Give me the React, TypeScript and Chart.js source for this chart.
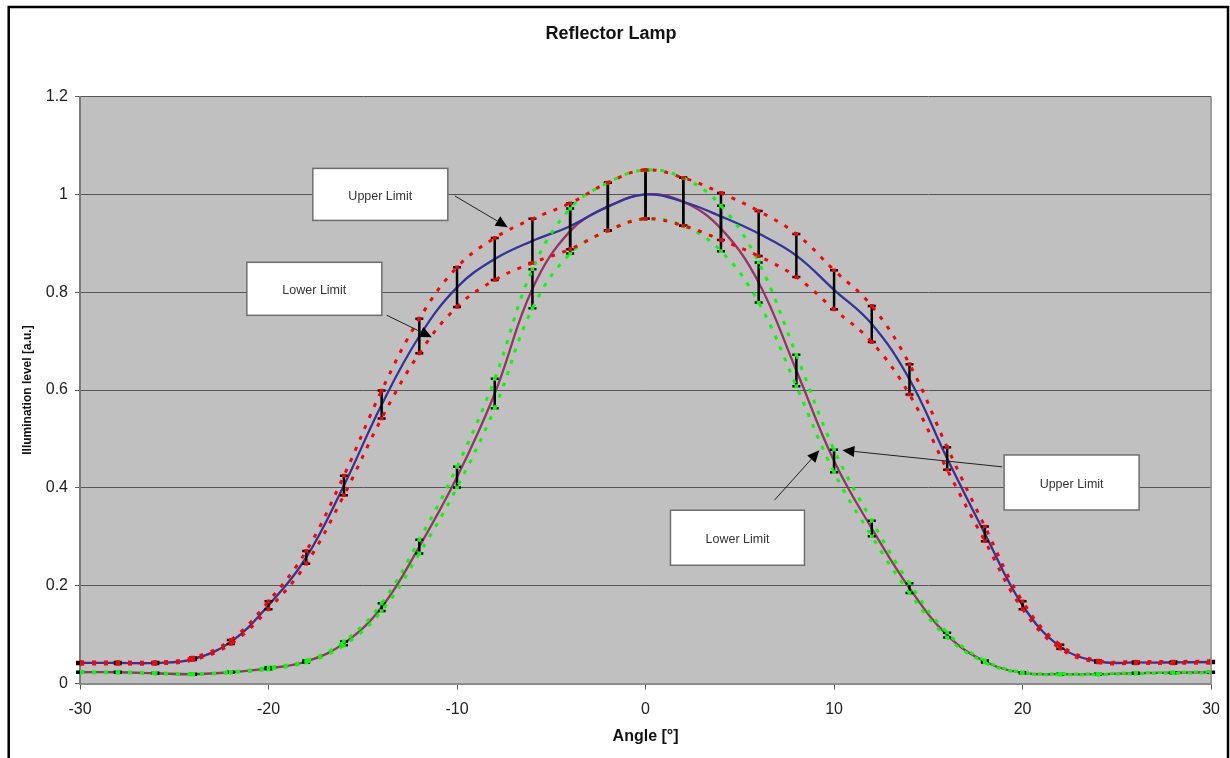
import React, { useEffect, useRef } from 'react';
import { Chart, registerables } from 'chart.js';

Chart.register(...registerables);

// ---- Data ----
const angles = [-30, -28, -26, -24, -22, -20, -18, -16, -14, -12, -10, -8, -6, -4, -2, 0, 2, 4, 6, 8, 10, 12, 14, 16, 18, 20, 22, 24, 26, 28, 30];

// wide beam (blue) and its limits (red dotted)
const wideLevel = [0.042, 0.042, 0.042, 0.05, 0.085, 0.16, 0.258, 0.405, 0.57, 0.71, 0.81, 0.868, 0.905, 0.935, 0.975, 1.0, 0.985, 0.955, 0.92, 0.875, 0.805, 0.735, 0.622, 0.46, 0.306, 0.16, 0.075, 0.045, 0.043, 0.043, 0.044];
const wideUpper = [0.044, 0.044, 0.044, 0.053, 0.089, 0.168, 0.271, 0.425, 0.599, 0.746, 0.851, 0.911, 0.95, 0.982, 1.024, 1.05, 1.034, 1.003, 0.966, 0.919, 0.845, 0.772, 0.653, 0.483, 0.321, 0.168, 0.079, 0.047, 0.045, 0.045, 0.046];
const wideLower = [0.04, 0.04, 0.04, 0.048, 0.081, 0.152, 0.245, 0.385, 0.542, 0.675, 0.77, 0.825, 0.86, 0.888, 0.926, 0.95, 0.936, 0.907, 0.874, 0.831, 0.765, 0.698, 0.591, 0.437, 0.291, 0.152, 0.071, 0.043, 0.041, 0.041, 0.042];

// narrow beam (purple) and its limits (green dotted)
const narrowLevel = [0.023, 0.023, 0.021, 0.019, 0.023, 0.031, 0.045, 0.082, 0.156, 0.28, 0.422, 0.593, 0.807, 0.925, 0.975, 1.0, 0.985, 0.93, 0.82, 0.64, 0.455, 0.317, 0.195, 0.099, 0.045, 0.022, 0.019, 0.019, 0.021, 0.022, 0.023];
const narrowUpper = [0.024, 0.024, 0.022, 0.02, 0.024, 0.033, 0.047, 0.086, 0.164, 0.294, 0.443, 0.623, 0.847, 0.971, 1.024, 1.05, 1.034, 0.977, 0.861, 0.672, 0.478, 0.333, 0.205, 0.104, 0.047, 0.023, 0.02, 0.02, 0.022, 0.023, 0.024];
const narrowLower = [0.022, 0.022, 0.02, 0.018, 0.022, 0.029, 0.043, 0.078, 0.148, 0.266, 0.401, 0.563, 0.767, 0.879, 0.926, 0.95, 0.936, 0.884, 0.779, 0.608, 0.432, 0.301, 0.185, 0.094, 0.043, 0.021, 0.018, 0.018, 0.02, 0.021, 0.022];

const xTickValues = [-30, -20, -10, 0, 10, 20, 30];
const yTickValues = [0, 0.2, 0.4, 0.6, 0.8, 1, 1.2];
const yTickLabels = ['0', '0.2', '0.4', '0.6', '0.8', '1', '1.2'];

// ---- Annotation callouts (anchored in data coordinates) ----
const callouts = [
  { text: 'Upper Limit', cx: -14.07, cy: 1.0, w: 135, h: 52, fx: -10.12, fy: 0.997, tx: -7.31, ty: 0.933 },
  { text: 'Lower Limit', cx: -17.57, cy: 0.807, w: 135, h: 53, fx: -13.73, fy: 0.753, tx: -11.34, ty: 0.708 },
  { text: 'Upper Limit', cx: 22.6, cy: 0.411, w: 135, h: 55, fx: 18.92, fy: 0.443, tx: 10.44, ty: 0.477 },
  { text: 'Lower Limit', cx: 4.876, cy: 0.298, w: 134, h: 55, fx: 6.84, fy: 0.375, tx: 9.22, ty: 0.477 },
];

const FONT = "'Liberation Sans', Arial, Helvetica, sans-serif";

const pts = (ys: number[]) => angles.map((a, i) => ({ x: a, y: ys[i] }));

const backgroundPlugin = {
  id: 'bgFrame',
  beforeDraw(chart: any) {
    const { ctx, chartArea: a, width, height } = chart;
    ctx.save();
    ctx.fillStyle = '#ffffff';
    ctx.fillRect(0, 0, width, height);
    ctx.fillStyle = '#c0c0c0';
    ctx.fillRect(a.left, a.top, a.right - a.left, a.bottom - a.top);
    ctx.restore();
  },
  afterDraw(chart: any) {
    const { ctx, chartArea: a } = chart;
    ctx.save();
    ctx.strokeStyle = '#8c8c8c';
    ctx.lineWidth = 1.5;
    ctx.beginPath();
    ctx.moveTo(a.right, a.top);
    ctx.lineTo(a.right, a.bottom);
    ctx.stroke();
    ctx.strokeStyle = '#000000';
    ctx.lineWidth = 2.5;
    ctx.strokeRect(8.7, 7, 1228 - 8.7, 800);
    ctx.restore();
  },
};

const errorBarPlugin = {
  id: 'errorBars',
  afterDatasetDraw(chart: any, args: any) {
    if (args.index !== 0) return;
    const { ctx } = chart;
    const xs = chart.scales.x;
    const ys = chart.scales.y;
    ctx.save();
    ctx.strokeStyle = '#000000';
    ctx.lineWidth = 2.5;
    const pairs = [
      [wideLower, wideUpper],
      [narrowLower, narrowUpper],
    ];
    for (const [lo, hi] of pairs) {
      angles.forEach((a, i) => {
        const x = xs.getPixelForValue(a);
        const y1 = ys.getPixelForValue(lo[i]);
        const y2 = ys.getPixelForValue(hi[i]);
        ctx.beginPath();
        ctx.moveTo(x, y1);
        ctx.lineTo(x, y2);
        ctx.moveTo(x - 4, y1);
        ctx.lineTo(x + 4, y1);
        ctx.moveTo(x - 4, y2);
        ctx.lineTo(x + 4, y2);
        ctx.stroke();
      });
    }
    ctx.restore();
  },
};

const calloutPlugin = {
  id: 'callouts',
  afterDatasetsDraw(chart: any) {
    const { ctx } = chart;
    const xs = chart.scales.x;
    const ys = chart.scales.y;
    ctx.save();
    for (const c of callouts) {
      const cx = xs.getPixelForValue(c.cx);
      const cy = ys.getPixelForValue(c.cy);
      const fx = xs.getPixelForValue(c.fx);
      const fy = ys.getPixelForValue(c.fy);
      const tx = xs.getPixelForValue(c.tx);
      const ty = ys.getPixelForValue(c.ty);
      const ang = Math.atan2(ty - fy, tx - fx);
      const headLen = 12;
      const headW = 5.5;
      const bx = tx - headLen * Math.cos(ang);
      const by = ty - headLen * Math.sin(ang);
      ctx.strokeStyle = '#202020';
      ctx.lineWidth = 1;
      ctx.beginPath();
      ctx.moveTo(fx, fy);
      ctx.lineTo(bx, by);
      ctx.stroke();
      ctx.fillStyle = '#000000';
      ctx.beginPath();
      ctx.moveTo(tx, ty);
      ctx.lineTo(bx + headW * Math.sin(ang), by - headW * Math.cos(ang));
      ctx.lineTo(bx - headW * Math.sin(ang), by + headW * Math.cos(ang));
      ctx.closePath();
      ctx.fill();
      ctx.fillStyle = '#ffffff';
      ctx.fillRect(cx - c.w / 2, cy - c.h / 2, c.w, c.h);
      ctx.strokeStyle = '#6e6e6e';
      ctx.lineWidth = 1.5;
      ctx.strokeRect(cx - c.w / 2, cy - c.h / 2, c.w, c.h);
      ctx.fillStyle = '#333333';
      ctx.font = `12.5px ${FONT}`;
      ctx.textAlign = 'center';
      ctx.textBaseline = 'middle';
      ctx.fillText(c.text, cx, cy + 2);
    }
    ctx.restore();
  },
};

export default function App() {
  const canvasRef = useRef<HTMLCanvasElement>(null);

  useEffect(() => {
    document.body.style.margin = '0';
    document.body.style.overflow = 'hidden';
    const canvas = canvasRef.current;
    if (!canvas) return;

    const limitStyle = (color: string) => ({
      borderColor: color,
      backgroundColor: color,
      borderWidth: 3,
      borderDash: [4, 8],
      pointStyle: 'rect' as const,
      pointRadius: 2.6,
      pointBorderWidth: 0,
      tension: 0.4,
      fill: false,
      order: 1,
    });

    const chart = new Chart(canvas, {
      type: 'line',
      data: {
        datasets: [
          {
            label: 'Wide beam',
            data: pts(wideLevel),
            borderColor: '#333399',
            backgroundColor: '#333399',
            borderWidth: 2.3,
            pointRadius: 0,
            tension: 0.4,
            fill: false,
            order: 2,
          },
          {
            label: 'Narrow beam',
            data: pts(narrowLevel),
            borderColor: '#993366',
            backgroundColor: '#993366',
            borderWidth: 2.3,
            pointRadius: 0,
            tension: 0.4,
            fill: false,
            order: 2,
          },
          { label: 'Wide upper limit', data: pts(wideUpper), ...limitStyle('#ff0000') },
          { label: 'Wide lower limit', data: pts(wideLower), ...limitStyle('#ff0000') },
          { label: 'Narrow upper limit', data: pts(narrowUpper), ...limitStyle('#00ff00') },
          { label: 'Narrow lower limit', data: pts(narrowLower), ...limitStyle('#00ff00') },
        ],
      },
      options: {
        responsive: false,
        animation: false,
        devicePixelRatio: 1,
        layout: { padding: { left: 10, right: 18, top: 0, bottom: 0 } },
        plugins: {
          legend: { display: false },
          tooltip: { enabled: false },
          title: {
            display: true,
            text: 'Reflector Lamp',
            color: '#111111',
            font: { family: FONT, size: 18, weight: 'bold' },
            padding: { top: 23, bottom: 52 },
          },
        },
        scales: {
          x: {
            type: 'linear',
            min: -30,
            max: 30,
            afterBuildTicks: (scale: any) => {
              scale.ticks = xTickValues.map((v) => ({ value: v }));
            },
            afterFit: (scale: any) => {
              scale.height = 74.5;
            },
            ticks: {
              color: '#222222',
              font: { family: FONT, size: 16 },
              padding: 10,
              maxRotation: 0,
              autoSkip: false,
            },
            grid: {
              drawOnChartArea: false,
              drawTicks: true,
              tickLength: 6,
              tickColor: '#555555',
            },
            border: { display: true, color: '#8c8c8c', width: 2 },
            title: {
              display: true,
              text: 'Angle [°]',
              color: '#111111',
              font: { family: FONT, size: 16, weight: 'bold' },
              padding: { top: 0, bottom: 12 },
            },
          },
          y: {
            type: 'linear',
            min: 0,
            max: 1.2,
            afterBuildTicks: (scale: any) => {
              scale.ticks = yTickValues.map((v) => ({ value: v }));
            },
            afterFit: (scale: any) => {
              scale.width = 70;
            },
            ticks: {
              color: '#222222',
              font: { family: FONT, size: 16 },
              padding: 7,
              callback: (value: any) => {
                const idx = yTickValues.findIndex((v) => Math.abs(v - Number(value)) < 1e-6);
                return idx >= 0 ? yTickLabels[idx] : '';
              },
            },
            grid: {
              drawOnChartArea: true,
              color: '#555555',
              lineWidth: 1,
              drawTicks: true,
              tickLength: 5,
              tickColor: '#555555',
            },
            border: { display: true, color: '#7a7a7a', width: 2 },
            title: {
              display: true,
              text: 'Illumination level [a.u.]',
              color: '#111111',
              font: { family: FONT, size: 12, weight: 'bold' },
              padding: { top: 10, bottom: 0 },
            },
          },
        },
      },
      plugins: [backgroundPlugin, errorBarPlugin, calloutPlugin],
    });

    return () => {
      chart.destroy();
    };
  }, []);

  return (
    <div style={{ position: 'relative', width: 1230, height: 758 }}>
      <canvas ref={canvasRef} width={1230} height={758} style={{ display: 'block', width: 1230, height: 758 }} />
    </div>
  );
}
